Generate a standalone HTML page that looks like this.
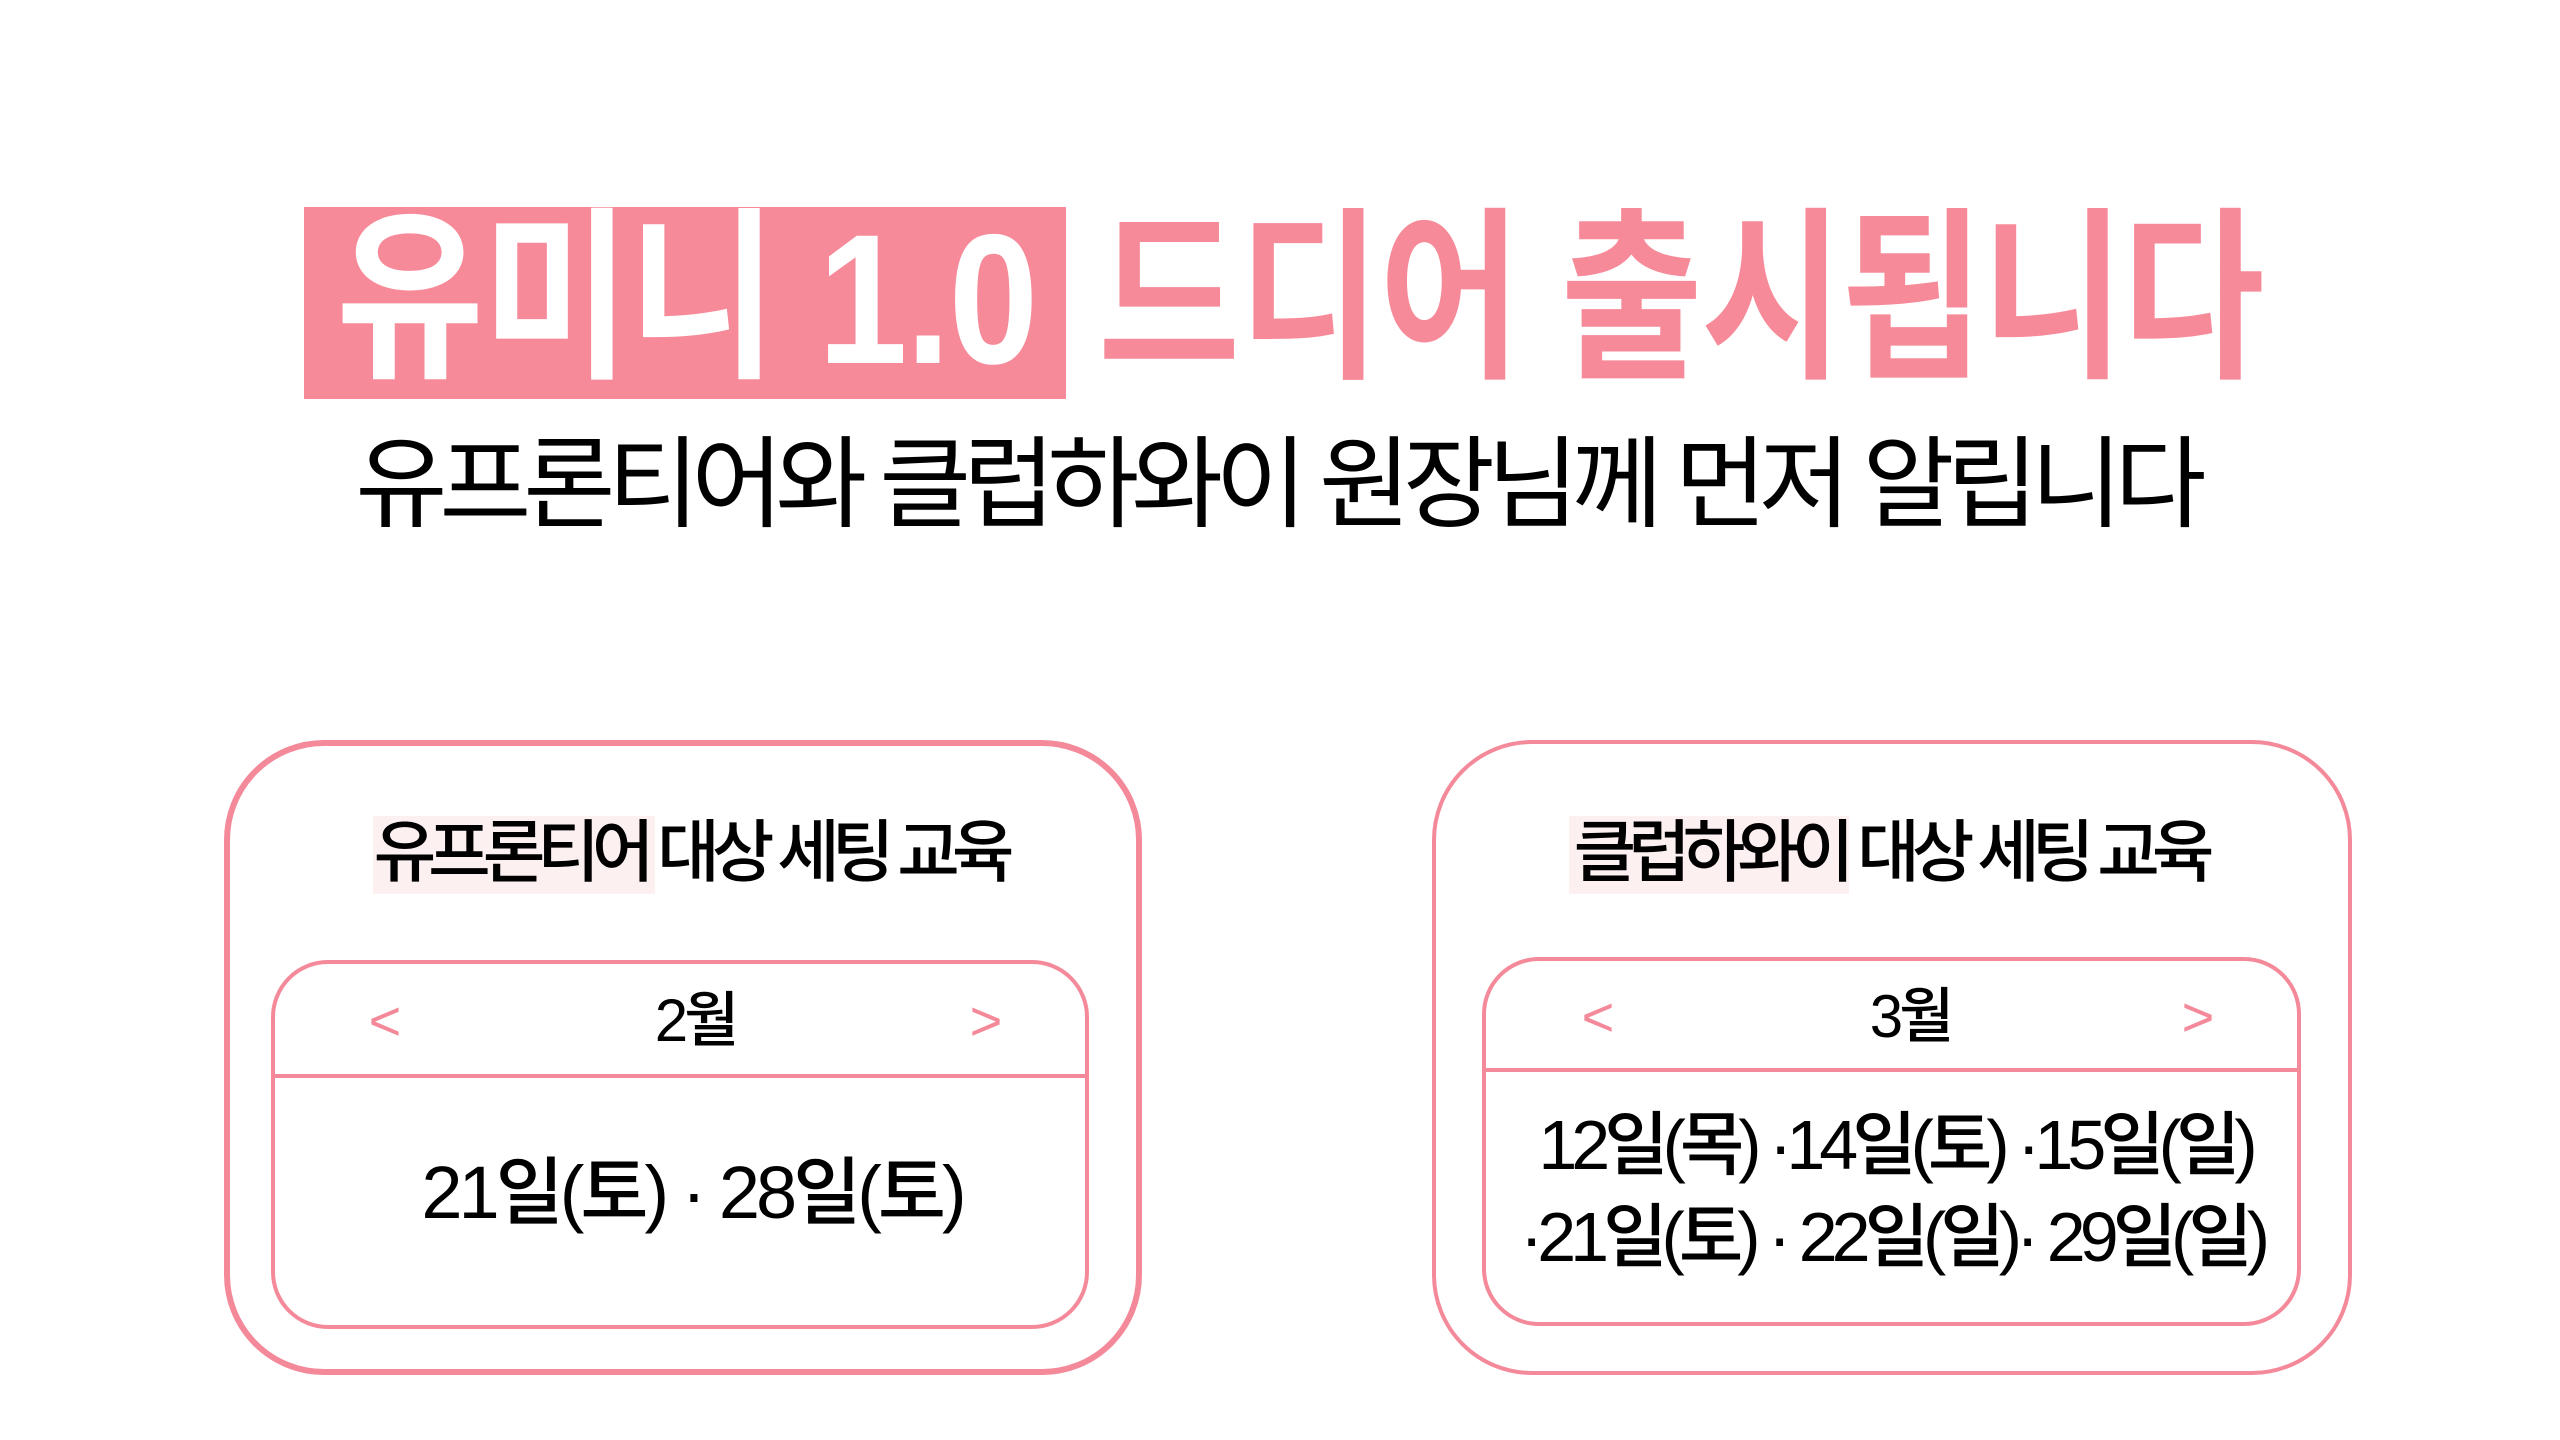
<!DOCTYPE html>
<html><head><meta charset="utf-8"><style>
html,body{margin:0;padding:0;background:#fff;}
body{width:2560px;height:1440px;position:relative;overflow:hidden;font-family:"Liberation Sans","Noto Sans CJK KR",sans-serif;}
.a{position:absolute;white-space:nowrap;}
.c{transform:translateX(-50%);}
.box{position:absolute;box-sizing:border-box;}
.arr{color:#f4899a;font-size:56px;font-weight:300;}
</style></head><body>
<div class="box" style="left:304px;top:207px;width:762px;height:192px;background:#f78a99;"></div>
<div class="a" style="left:336px;top:170px;font-size:185px;font-weight:700;color:#fff;letter-spacing:-2px;line-height:260px;transform:scaleX(0.87);transform-origin:0 0;">유미니 1.0</div>
<div class="a" style="left:1098px;top:170px;font-size:185px;font-weight:700;color:#f78a99;letter-spacing:-2px;line-height:260px;transform:scaleX(0.835);transform-origin:0 0;">드디어 출시됩니다</div>
<div class="a c" style="left:1277px;top:420px;font-size:100px;font-weight:400;color:#000;letter-spacing:-8px;line-height:130px;">유프론티어와 클럽하와이 원장님께 먼저 알립니다</div>

<!-- left card -->
<div class="box" style="left:224px;top:740px;width:918px;height:635px;border:6px solid #f4899a;border-radius:100px;"></div>
<div class="box" style="left:373px;top:816px;width:282px;height:78px;background:#fdf0f1;"></div>
<div class="a c" style="left:690px;top:803px;font-size:68px;font-weight:500;letter-spacing:-8px;line-height:100px;">유프론티어 대상 세팅 교육</div>
<div class="box" style="left:271px;top:960px;width:818px;height:369px;border:4px solid #f4899a;border-radius:57px;"></div>
<div class="box" style="left:271px;top:1074px;width:818px;height:4px;background:#f4899a;"></div>
<div class="a c" style="left:695px;top:985px;font-size:60px;font-weight:500;letter-spacing:-4px;line-height:72px;">2월</div>
<div class="a c arr" style="left:385px;top:985px;line-height:72px;">&lt;</div>
<div class="a c arr" style="left:986px;top:985px;line-height:72px;">&gt;</div>
<div class="a c" style="left:692px;top:1148px;font-size:74px;font-weight:500;letter-spacing:-4px;line-height:90px;">21일(토) · 28일(토)</div>

<!-- right card -->
<div class="box" style="left:1432px;top:740px;width:920px;height:635px;border:4px solid #f4899a;border-radius:100px;"></div>
<div class="box" style="left:1569px;top:816px;width:280px;height:78px;background:#fdf0f1;"></div>
<div class="a c" style="left:1890px;top:803px;font-size:68px;font-weight:500;letter-spacing:-8px;line-height:100px;">클럽하와이 대상 세팅 교육</div>
<div class="box" style="left:1482px;top:957px;width:819px;height:369px;border:4px solid #f4899a;border-radius:57px;"></div>
<div class="box" style="left:1482px;top:1068px;width:819px;height:4px;background:#f4899a;"></div>
<div class="a c" style="left:1910px;top:981px;font-size:60px;font-weight:500;letter-spacing:-4px;line-height:72px;">3월</div>
<div class="a c arr" style="left:1598px;top:981px;line-height:72px;">&lt;</div>
<div class="a c arr" style="left:2198px;top:981px;line-height:72px;">&gt;</div>
<div class="a c" style="left:1895px;top:1102px;font-size:70px;font-weight:500;letter-spacing:-6px;line-height:86px;">12일(목) ·14일(토) ·15일(일)</div>
<div class="a c" style="left:1892px;top:1194px;font-size:70px;font-weight:500;letter-spacing:-6px;line-height:86px;">·21일(토) · 22일(일)· 29일(일)</div>
</body></html>
